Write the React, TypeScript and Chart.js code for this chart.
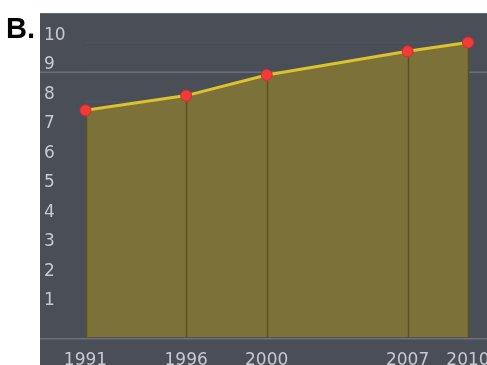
import React, { useEffect, useRef } from "react";
import { Chart, registerables } from "chart.js";

Chart.register(...registerables);

// Series: value per survey year
const years = [1991, 1996, 2000, 2007, 2010];
const values = [7.7, 8.2, 8.9, 9.7, 10.0];
const yTickValues = [1, 2, 3, 4, 5, 6, 7, 8, 9, 10];
const highlightedGridValue = 9;
const panelLabel = "B.";

const PANEL_BG = "#4a4e57";
const FILL = "#7b7139";
const LINE = "#dcc22c";
const POINT = "#f23a3a";
const TICK_TEXT = "#c6c9cd";

const panelPlugin = {
  id: "panel",
  beforeDraw(chart: any) {
    const { ctx, width, height } = chart;
    ctx.save();
    ctx.fillStyle = "#ffffff";
    ctx.fillRect(0, 0, width, height);
    ctx.fillStyle = PANEL_BG;
    ctx.fillRect(40, 13, width - 40, height - 13);
    ctx.fillStyle = "#676b73";
    ctx.fillRect(40, 13, width - 40, 1);
    ctx.fillStyle = "#000000";
    ctx.font = "bold 29px 'Liberation Sans', Arial, sans-serif";
    ctx.textBaseline = "alphabetic";
    ctx.fillText(panelLabel, 6, 38);
    ctx.restore();
  },
  beforeDatasetsDraw(chart: any) {
    const { ctx } = chart;
    const y = chart.scales.y.getPixelForValue(highlightedGridValue);
    ctx.save();
    ctx.fillStyle = "#6a6e76";
    ctx.fillRect(40, Math.round(y) - 0.5, chart.width - 40, 1.5);
    ctx.restore();
  },
  afterDatasetsDraw(chart: any) {
    const { ctx, chartArea } = chart;
    const meta = chart.getDatasetMeta(0);
    ctx.save();
    // drop lines from each point to the baseline
    ctx.strokeStyle = "#5a521f";
    ctx.lineWidth = 1.5;
    meta.data.forEach((pt: any) => {
      ctx.beginPath();
      ctx.moveTo(Math.round(pt.x) + 0.5, pt.y + 6);
      ctx.lineTo(Math.round(pt.x) + 0.5, chartArea.bottom);
      ctx.stroke();
    });
    // baseline across the panel
    ctx.fillStyle = "#6d7078";
    ctx.fillRect(40, Math.round(chartArea.bottom), chart.width - 40, 1.5);
    ctx.restore();
  },
};

export default function App() {
  const ref = useRef<HTMLCanvasElement | null>(null);

  useEffect(() => {
    if (!ref.current) return;
    const chart = new Chart(ref.current, {
      type: "line",
      data: {
        datasets: [
          {
            data: years.map((y, i) => ({ x: y, y: values[i] })),
            borderColor: LINE,
            borderWidth: 3,
            backgroundColor: FILL,
            fill: "origin",
            tension: 0,
            clip: false,
            pointRadius: 5.5,
            pointBackgroundColor: POINT,
            pointBorderColor: "#e02828",
            pointBorderWidth: 1,
          },
        ],
      },
      options: {
        responsive: false,
        animation: false,
        events: [],
        layout: { padding: { left: 44, right: 19, top: 42.5, bottom: 0 } },
        plugins: {
          legend: { display: false },
          tooltip: { enabled: false },
        },
        scales: {
          x: {
            type: "linear",
            min: years[0],
            max: years[years.length - 1],
            grid: { display: false, drawTicks: false },
            border: { display: false },
            afterBuildTicks: (scale: any) => {
              scale.ticks = years.map((v) => ({ value: v }));
            },
            afterFit: (scale: any) => {
              scale.height = 27.5;
              scale.paddingLeft = 0;
              scale.paddingRight = 0;
            },
            ticks: {
              autoSkip: false,
              maxRotation: 0,
              padding: 13,
              color: TICK_TEXT,
              font: { family: "'DejaVu Sans', Verdana, sans-serif", size: 17 },
              callback: (v: any) => String(v),
            },
          },
          y: {
            min: 0,
            max: 10,
            afterBuildTicks: (scale: any) => {
              scale.ticks = [0, ...yTickValues].map((v) => ({ value: v }));
            },
            afterFit: (scale: any) => {
              scale.width = 41.5;
              scale.paddingTop = 0;
              scale.paddingBottom = 0;
            },
            grid: {
              drawTicks: false,
              color: "rgba(255,255,255,0.035)",
              lineWidth: 1.5,
            },
            border: { display: false },
            ticks: {
              crossAlign: "far",
              labelOffset: -7,
              padding: 0,
              color: TICK_TEXT,
              font: { family: "'DejaVu Sans', Verdana, sans-serif", size: 17 },
              callback: (v: any) => (v === 0 ? "" : String(v)),
            },
          },
        },
      },
      plugins: [panelPlugin],
    } as any);
    return () => chart.destroy();
  }, []);

  return (
    <div style={{ position: "absolute", left: 0, top: 0, width: 487, height: 365, background: "#fff" }}>
      <canvas ref={ref} width={487} height={365} style={{ display: "block" }} />
    </div>
  );
}
